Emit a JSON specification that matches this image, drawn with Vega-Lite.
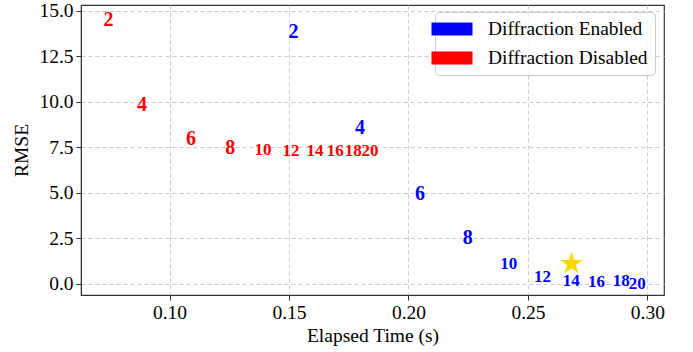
{
  "$schema": "https://vega.github.io/schema/vega-lite/v6.json",
  "width": 583,
  "height": 290,
  "autosize": "none",
  "padding": {"left": 81, "top": 5, "right": 29, "bottom": 57},
  "config": {
    "font": "Liberation Serif",
    "view": {"stroke": "#333333", "strokeWidth": 1.2},
    "axis": {
      "labelFont": "Liberation Serif",
      "labelFontSize": 19.5,
      "labelColor": "#000000",
      "labelPadding": 3,
      "titleFont": "Liberation Serif",
      "titleFontSize": 19.5,
      "titleFontWeight": "normal",
      "titleColor": "#000000",
      "tickColor": "#333333",
      "tickSize": 5,
      "domainColor": "#333333",
      "gridColor": "#cccccc",
      "gridDash": [4, 3],
      "gridWidth": 1
    },
    "legend": {
      "labelFont": "Liberation Serif",
      "labelFontSize": 19.4,
      "labelColor": "#000000"
    }
  },
  "data": {
    "values": [
      {"config": "Diffraction Disabled", "label": "2", "n": 2, "time": 0.0745, "rmse": 14.49},
      {"config": "Diffraction Disabled", "label": "4", "n": 4, "time": 0.0885, "rmse": 9.82},
      {"config": "Diffraction Disabled", "label": "6", "n": 6, "time": 0.1090, "rmse": 7.93},
      {"config": "Diffraction Disabled", "label": "8", "n": 8, "time": 0.1254, "rmse": 7.44},
      {"config": "Diffraction Disabled", "label": "10", "n": 10, "time": 0.1391, "rmse": 7.35},
      {"config": "Diffraction Disabled", "label": "12", "n": 12, "time": 0.1508, "rmse": 7.31},
      {"config": "Diffraction Disabled", "label": "14", "n": 14, "time": 0.1609, "rmse": 7.31},
      {"config": "Diffraction Disabled", "label": "16", "n": 16, "time": 0.1694, "rmse": 7.31},
      {"config": "Diffraction Disabled", "label": "18", "n": 18, "time": 0.1769, "rmse": 7.31},
      {"config": "Diffraction Disabled", "label": "20", "n": 20, "time": 0.1839, "rmse": 7.31},
      {"config": "Diffraction Enabled", "label": "2", "n": 2, "time": 0.1519, "rmse": 13.81},
      {"config": "Diffraction Enabled", "label": "4", "n": 4, "time": 0.1797, "rmse": 8.57},
      {"config": "Diffraction Enabled", "label": "6", "n": 6, "time": 0.2048, "rmse": 4.93},
      {"config": "Diffraction Enabled", "label": "8", "n": 8, "time": 0.2248, "rmse": 2.49},
      {"config": "Diffraction Enabled", "label": "10", "n": 10, "time": 0.2420, "rmse": 1.07},
      {"config": "Diffraction Enabled", "label": "12", "n": 12, "time": 0.2561, "rmse": 0.38},
      {"config": "Diffraction Enabled", "label": "14", "n": 14, "time": 0.2681, "rmse": 0.16},
      {"config": "Diffraction Enabled", "label": "16", "n": 16, "time": 0.2787, "rmse": 0.11},
      {"config": "Diffraction Enabled", "label": "18", "n": 18, "time": 0.2891, "rmse": 0.13},
      {"config": "Diffraction Enabled", "label": "20", "n": 20, "time": 0.2957, "rmse": -0.03},
      {"config": "Best", "label": "★", "n": 14, "time": 0.2681, "rmse": 1.10}
    ]
  },
  "mark": {"type": "text", "font": "Liberation Serif", "fontWeight": "bold", "align": "center", "baseline": "middle"},
  "encoding": {
    "x": {
      "field": "time", "type": "quantitative",
      "scale": {"domain": [0.06296, 0.30694], "nice": false, "zero": false},
      "axis": {"title": "Elapsed Time (s)", "values": [0.10, 0.15, 0.20, 0.25, 0.30], "format": ".2f", "titlePadding": 5}
    },
    "y": {
      "field": "rmse", "type": "quantitative",
      "scale": {"domain": [-0.62, 15.31], "nice": false, "zero": false},
      "axis": {"title": "RMSE", "values": [0, 2.5, 5, 7.5, 10, 12.5, 15], "format": ".1f", "titlePadding": 7}
    },
    "text": {"field": "label", "type": "nominal"},
    "size": {
      "condition": [
        {"test": "datum.config == 'Best'", "value": 26},
        {"test": "datum.n < 10", "value": 20}
      ],
      "value": 17
    },
    "color": {
      "field": "config", "type": "nominal",
      "scale": {"domain": ["Diffraction Enabled", "Diffraction Disabled", "Best"], "range": ["#0000ff", "#ff0000", "#FFD700"]},
      "legend": {
        "title": null,
        "values": ["Diffraction Enabled", "Diffraction Disabled"],
        "orient": "none",
        "legendX": 354,
        "legendY": 7,
        "symbolType": "M-2.05,-0.65H2.05V0.65H-2.05Z",
        "symbolSize": 400,
        "symbolStrokeWidth": 0,
        "labelOffset": 26,
        "padding": 7,
        "rowPadding": 9,
        "strokeColor": "#cccccc",
        "fillColor": "rgba(255,255,255,0.8)",
        "cornerRadius": 4
      }
    }
  }
}
